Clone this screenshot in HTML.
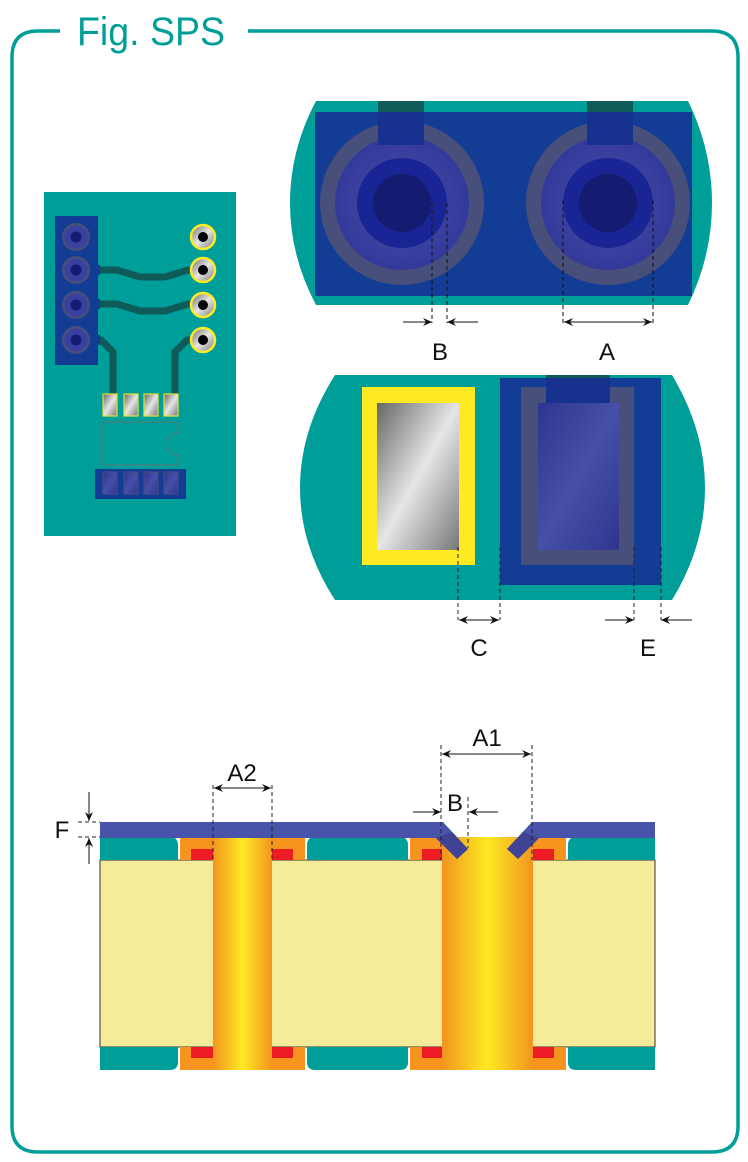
<!DOCTYPE html>
<html><head><meta charset="utf-8"><style>
html,body{margin:0;padding:0;background:#fff;}
svg{display:block;}
text{font-family:"Liberation Sans",sans-serif;}
</style></head><body>
<svg width="748" height="1162" viewBox="0 0 748 1162" xmlns="http://www.w3.org/2000/svg">
<defs>
<radialGradient id="ring" cx="0.5" cy="0.5" r="0.5"><stop offset="0" stop-color="#4650a8"/><stop offset="1" stop-color="#33399a"/></radialGradient>
<linearGradient id="silver" x1="0" y1="0" x2="1" y2="1"><stop offset="0" stop-color="#666"/><stop offset="0.5" stop-color="#e6e6e6"/><stop offset="1" stop-color="#777"/></linearGradient>
<linearGradient id="bluep" x1="0" y1="0" x2="1" y2="1"><stop offset="0" stop-color="#2e3590"/><stop offset="0.5" stop-color="#4650a8"/><stop offset="1" stop-color="#2e3590"/></linearGradient>
<linearGradient id="via" x1="0" y1="0" x2="1" y2="0"><stop offset="0" stop-color="#f39420"/><stop offset="0.5" stop-color="#fdea22"/><stop offset="1" stop-color="#f39420"/></linearGradient>
<marker id="ar" markerWidth="10" markerHeight="8" refX="9" refY="4" orient="auto" markerUnits="userSpaceOnUse"><path d="M0,0 L9,4 L0,8 L3,4 Z" fill="#111"/></marker>
</defs>
<!-- frame -->
<path d="M60,31 H38 Q12,31 12,57 V1126 Q12,1152 38,1152 H712 Q738,1152 738,1126 V57 Q738,31 712,31 H248" fill="none" stroke="#009e99" stroke-width="3.5"/>
<text x="77" y="45" font-size="40" fill="#009e99" textLength="148" lengthAdjust="spacingAndGlyphs">Fig. SPS</text>

<!-- left board -->
<rect x="44" y="192" width="192" height="344" fill="#009e99"/>
<rect x="55" y="216" width="43" height="149" fill="#133c94"/>
<g fill="none" stroke="#0f5b5a" stroke-width="7">
<path d="M90,270 H117 L140,277 H165 L188,270 H203"/>
<path d="M90,304 H117 L140,311 H165 L188,304 H203"/>
<path d="M90,340 H101 L113,352 V396"/>
<path d="M203,340 H187 L175,352 V396"/>
</g>
<g fill="#133c94"><rect x="88" y="265" width="12" height="10"/><rect x="88" y="299" width="12" height="10"/><rect x="88" y="335" width="12" height="10"/></g>
<g>
<circle cx="76" cy="237" r="14" fill="#484f7a"/><circle cx="76" cy="237" r="11.5" fill="#3840a0"/><circle cx="76" cy="237" r="5.5" fill="#131c70"/>
<circle cx="76" cy="270" r="14" fill="#484f7a"/><circle cx="76" cy="270" r="11.5" fill="#3840a0"/><circle cx="76" cy="270" r="5.5" fill="#131c70"/>
<circle cx="76" cy="305" r="14" fill="#484f7a"/><circle cx="76" cy="305" r="11.5" fill="#3840a0"/><circle cx="76" cy="305" r="5.5" fill="#131c70"/>
<circle cx="76" cy="340" r="14" fill="#484f7a"/><circle cx="76" cy="340" r="11.5" fill="#3840a0"/><circle cx="76" cy="340" r="5.5" fill="#131c70"/>
</g>
<g stroke="#fdea22" stroke-width="2.5" fill="url(#silver)">
<circle cx="203" cy="237" r="12"/><circle cx="203" cy="270" r="12"/><circle cx="203" cy="305" r="12"/><circle cx="203" cy="340" r="12"/>
</g>
<g fill="#000"><circle cx="203" cy="237" r="5"/><circle cx="203" cy="270" r="5"/><circle cx="203" cy="305" r="5"/><circle cx="203" cy="340" r="5"/></g>
<g stroke="#e8e030" stroke-width="1.2" fill="url(#silver)">
<rect x="103" y="394" width="14" height="22"/><rect x="124" y="394" width="14" height="22"/><rect x="144" y="394" width="14" height="22"/><rect x="164" y="394" width="14" height="22"/>
</g>
<path d="M103,422 H178 V433 A10,10 0 0 0 178,455 V465 H103 Z" fill="none" stroke="#7a6a6a" stroke-width="0.8"/>
<rect x="95" y="469" width="91" height="30" fill="#133c94"/>
<g fill="url(#bluep)" stroke="#484f7a" stroke-width="1"><rect x="103" y="472" width="14" height="22"/><rect x="124" y="472" width="14" height="22"/><rect x="144" y="472" width="14" height="22"/><rect x="164" y="472" width="14" height="22"/></g>

<!-- top right board -->
<path d="M316,101 H688 Q712,150 712,203 Q712,256 688,305 H316 Q290,256 290,203 Q290,150 316,101 Z" fill="#009e99"/>
<rect x="315" y="112" width="377" height="184" fill="#133c94"/>
<circle cx="402" cy="203" r="82" fill="#484f7a"/><circle cx="402" cy="203" r="67" fill="url(#ring)"/><circle cx="402" cy="203" r="45" fill="#1a2595"/><circle cx="402" cy="203" r="29" fill="#131c70"/>
<circle cx="608" cy="203" r="82" fill="#484f7a"/><circle cx="608" cy="203" r="67" fill="url(#ring)"/><circle cx="608" cy="203" r="45" fill="#1a2595"/><circle cx="608" cy="203" r="29" fill="#131c70"/>
<rect x="378" y="101" width="46" height="11" fill="#0f5b5a"/><rect x="378" y="112" width="46" height="33" fill="#17318f"/>
<rect x="587" y="101" width="46" height="11" fill="#0f5b5a"/><rect x="587" y="112" width="46" height="33" fill="#17318f"/>
<g stroke="#111" stroke-width="1" stroke-dasharray="4,3" fill="none">
<path d="M432,203 V323 M447,203 V323 M563,200 V323 M653,200 V323"/>
</g>
<g stroke="#111" stroke-width="1">
<line x1="403" y1="322" x2="432" y2="322" marker-end="url(#ar)"/>
<line x1="478" y1="322" x2="447" y2="322" marker-end="url(#ar)"/>
<line x1="608" y1="322" x2="564" y2="322" marker-end="url(#ar)"/>
<line x1="608" y1="322" x2="652" y2="322" marker-end="url(#ar)"/>
</g>
<text x="440" y="360" font-size="24" text-anchor="middle" fill="#111">B</text>
<text x="607" y="360" font-size="24" text-anchor="middle" fill="#111">A</text>

<!-- middle board -->
<path d="M335,375 H672 Q705,430 705,488 Q705,546 672,600 H335 Q300,546 300,488 Q300,430 335,375 Z" fill="#009e99"/>
<rect x="362" y="387" width="113" height="178" fill="#fdea22"/>
<rect x="377" y="403" width="82" height="147" fill="url(#silver)"/>
<rect x="500" y="378" width="161" height="207" fill="#133c94"/>
<rect x="521" y="387" width="113" height="178" fill="#484f7a"/>
<rect x="538" y="403" width="81" height="147" fill="url(#bluep)"/>
<rect x="546" y="375" width="64" height="3" fill="#0f5b5a"/><rect x="546" y="378" width="64" height="25" fill="#17318f"/>
<g stroke="#222" stroke-width="1" stroke-dasharray="4,3" fill="none">
<path d="M458,547 V620 M500,547 V620 M634,547 V620 M661,547 V620"/>
</g>
<g stroke="#111" stroke-width="1">
<line x1="479" y1="620" x2="459" y2="620" marker-end="url(#ar)"/>
<line x1="479" y1="620" x2="499" y2="620" marker-end="url(#ar)"/>
<line x1="605" y1="620" x2="634" y2="620" marker-end="url(#ar)"/>
<line x1="692" y1="620" x2="661" y2="620" marker-end="url(#ar)"/>
</g>
<text x="479" y="656" font-size="24" text-anchor="middle" fill="#111">C</text>
<text x="648" y="656" font-size="24" text-anchor="middle" fill="#111">E</text>

<!-- cross-section -->
<rect x="100" y="860" width="555" height="187" fill="#f5eb98" stroke="#333" stroke-width="1"/>
<g fill="#009e99">
<path d="M100,837 H170 Q178,837 178,845 V860 H100 Z"/>
<path d="M315,837 H400 Q408,837 408,845 V860 H307 V845 Q307,837 315,837 Z"/>
<path d="M576,837 H655 V860 H568 V845 Q568,837 576,837 Z"/>
<path d="M100,1047 H178 V1062 Q178,1070 170,1070 H100 Z"/>
<path d="M307,1047 H408 V1062 Q408,1070 400,1070 H315 Q307,1070 307,1062 Z"/>
<path d="M568,1047 H655 V1070 H576 Q568,1070 568,1062 Z"/>
</g>
<g fill="#f7941d">
<rect x="180" y="837" width="125" height="23"/><rect x="410" y="837" width="156" height="23"/>
<rect x="180" y="1047" width="125" height="23"/><rect x="410" y="1047" width="156" height="23"/>
</g>
<g fill="#ed1c24">
<rect x="191" y="849" width="22" height="11"/><rect x="272" y="849" width="21" height="11"/>
<rect x="422" y="849" width="20" height="11"/><rect x="533" y="849" width="21" height="11"/>
<rect x="191" y="1047" width="22" height="11"/><rect x="272" y="1047" width="21" height="11"/>
<rect x="422" y="1047" width="20" height="11"/><rect x="533" y="1047" width="21" height="11"/>
</g>
<rect x="213" y="837" width="59" height="233" fill="url(#via)"/>
<rect x="442" y="837" width="91" height="233" fill="url(#via)"/>
<g fill="#4853aa">
<path d="M100,822 H443 L468,849 L457,859 L436,838 H100 Z"/>
<path d="M655,822 H532 L507,849 L518,859 L539,838 H655 Z"/>
</g>
<path d="M436,838 L457,859 L468,849 L452,832 Z" fill="#3d3f90" opacity="0.8"/>
<path d="M539,838 L518,859 L507,849 L523,832 Z" fill="#3d3f90" opacity="0.8"/>
<g stroke="#222" stroke-width="1" stroke-dasharray="4,3" fill="none">
<path d="M213,785 V860 M272,785 V860 M441,745 V860 M532,745 V860 M468,797 V848 M78,822 H100 M78,837 H100"/>
</g>
<g stroke="#111" stroke-width="1">
<line x1="242" y1="788" x2="214" y2="788" marker-end="url(#ar)"/>
<line x1="242" y1="788" x2="271" y2="788" marker-end="url(#ar)"/>
<line x1="487" y1="754" x2="442" y2="754" marker-end="url(#ar)"/>
<line x1="487" y1="754" x2="531" y2="754" marker-end="url(#ar)"/>
<line x1="413" y1="812" x2="441" y2="812" marker-end="url(#ar)"/>
<line x1="498" y1="812" x2="469" y2="812" marker-end="url(#ar)"/>
<line x1="89" y1="792" x2="89" y2="821" marker-end="url(#ar)"/>
<line x1="89" y1="864" x2="89" y2="838" marker-end="url(#ar)"/>
</g>
<text x="242" y="781" font-size="24" text-anchor="middle" fill="#111">A2</text>
<text x="487" y="746" font-size="24" text-anchor="middle" fill="#111">A1</text>
<text x="455" y="811" font-size="24" text-anchor="middle" fill="#111">B</text>
<text x="62" y="838" font-size="24" text-anchor="middle" fill="#111">F</text>
</svg>
</body></html>
